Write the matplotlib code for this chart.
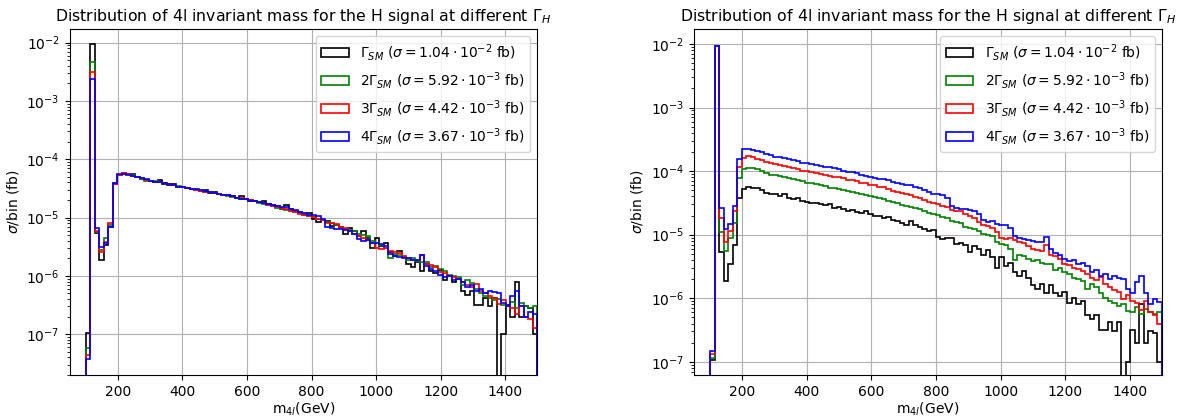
import numpy as np
import matplotlib.pyplot as plt

# binning of the m4l histograms (GeV)
edges = np.arange(100, 1501, 14)
centers = 0.5 * (edges[:-1] + edges[1:])

# sigma per bin in units of 1e-6 fb (same normalisation)
black = [0.105, 9400, 5.4, 1.9, 3.4, 6.8, 38, 53, 57, 55,
         55, 50, 45, 44, 43, 40, 44, 38, 36, 38,
         34, 33, 32, 31, 30, 29, 30, 26, 27, 25.5,
         24, 24.5, 23, 22, 23.5, 21, 20, 19.5, 18.5, 19,
         17, 16.5, 15.5, 14, 16.5, 14, 13, 12.5, 11.5, 12,
         9.3, 8.5, 9, 8.8, 7.2, 7.5, 7, 5.3, 6.6, 6,
         4.8, 5.8, 4.5, 3.0, 4.4, 3.2, 3.6, 2.6, 2.2, 2.7,
         2.1, 1.6, 1.4, 1.7, 1.2, 1.6, 1.2, 1.1, 1.25, 0.85,
         1.0, 0.8, 0.9, 0.55, 0.48, 0.55, 0.32, 0.32, 0.42, 0.3,
         0.42, 0, 0.1, 0.32, 0.2, 0.8, 0.2, 0.3, 0.28, 0.1]
green = [0.058, 4700, 5.6, 2.8, 4.4, 7.5, 39, 54, 56.5, 55,
         53, 50, 46, 43, 43, 42, 40, 39, 38, 36,
         35, 33, 32, 31, 30, 29, 27, 27.5, 26, 25,
         24, 23.5, 22.5, 22, 21, 20.5, 19.5, 19, 18, 17,
         16.5, 15.5, 14.5, 14, 13.5, 13, 12.5, 12, 11, 10.5,
         10.2, 9.5, 9, 8.3, 8, 7.5, 6.5, 6.4, 6.2, 5.8,
         5.2, 5.0, 4.8, 3.9, 3.6, 3.4, 3.0, 2.0, 2.4, 2.3,
         2.1, 1.9, 2.0, 1.8, 1.75, 1.7, 1.4, 1.5, 1.3, 1.2,
         1.05, 1.0, 0.95, 0.7, 0.85, 0.75, 0.6, 0.5, 0.45, 0.42,
         0.38, 0.4, 0.32, 0.3, 0.36, 0.28, 0.34, 0.3, 0.28, 0.3]
red = [0.044, 3150, 6.0, 2.6, 3.8, 8.0, 38, 53, 57, 55,
       52, 50, 47, 44, 43, 41, 40, 39, 37, 36,
       34, 33, 32.5, 31, 30, 29, 28, 27, 26.5, 25.5,
       24.5, 24, 23, 22, 21.5, 20.5, 20, 19, 18.5, 17.5,
       16.5, 15.5, 15, 14.5, 14, 13, 12.5, 11.5, 11, 10.5,
       10.2, 9.5, 9, 8.2, 8, 7.8, 7.0, 6.5, 6.0, 5.3,
       4.8, 4.5, 4.2, 3.7, 3.0, 2.9, 3.0, 2.7, 2.6, 2.5,
       2.2, 2.0, 1.9, 1.85, 2.3, 1.6, 1.55, 1.4, 1.15, 1.1,
       1.0, 0.95, 0.88, 0.8, 0.7, 0.65, 0.72, 0.55, 0.5, 0.45,
       0.42, 0.33, 0.38, 0.3, 0.28, 0.22, 0.3, 0.2, 0.18, 0.13]
blue = [0.037, 2350, 6.5, 3.1, 3.7, 7.0, 39, 55, 56, 54,
        52, 50, 47, 45, 42, 41, 40, 38.5, 37, 35.5,
        34, 33, 32, 31.5, 30.5, 29.5, 28.5, 27.5, 26.5, 25.5,
        24, 24, 23, 22, 21, 20.5, 19.5, 19, 18.5, 18,
        17, 16.5, 15.5, 15, 15, 14, 13.5, 12.5, 11.8, 11,
        11, 10.5, 9.5, 7, 6.5, 6.3, 6.4, 6.2, 6.0, 5.3,
        4.3, 4.0, 4.1, 3.7, 3.6, 3.5, 3.2, 2.4, 2.2, 2.1,
        2.05, 2.0, 1.9, 1.9, 2.3, 1.5, 1.3, 1.2, 1.05, 0.95,
        1.0, 0.85, 0.9, 0.8, 0.65, 0.7, 0.55, 0.6, 0.5, 0.55,
        0.52, 0.5, 0.35, 0.3, 0.45, 0.55, 0.3, 0.2, 0.24, 0.22]

# width multiples (right panel scales each sample by n)
width_factor = [1, 2, 3, 4]
colors = ['black', 'green', 'red', 'blue']
labels = [r'$\Gamma_{SM}$ ($\sigma = 1.04 \cdot 10^{-2}$ fb)',
          r'2$\Gamma_{SM}$ ($\sigma = 5.92 \cdot 10^{-3}$ fb)',
          r'3$\Gamma_{SM}$ ($\sigma = 4.42 \cdot 10^{-3}$ fb)',
          r'4$\Gamma_{SM}$ ($\sigma = 3.67 \cdot 10^{-3}$ fb)']
series = [black, green, red, blue]

fig = plt.figure(figsize=(11.78, 4.17), dpi=100)
ax1 = fig.add_axes([0.0590, 0.1007, 0.3972, 0.829])
ax2 = fig.add_axes([0.5891, 0.1007, 0.3972, 0.829])

for ax, scaled in [(ax1, False), (ax2, True)]:
    for vals, n, c, lab in zip(series, width_factor, colors, labels):
        w = np.array(vals) * 1e-6
        if scaled:
            w = w * n
        ax.hist(centers, bins=edges, weights=w, histtype='step',
                color=c, label=lab, linewidth=1.2)
    ax.set_yscale('log')
    ax.set_xlim(50, 1500)
    ax.set_title(r'Distribution of 4l invariant mass for the H signal at different $\Gamma_H$',
                 fontsize=11.3)
    ax.set_xlabel(r'm$_{4l}$(GeV)', labelpad=1)
    ax.set_ylabel(r'$\sigma$/bin (fb)')
    ax.grid(True)
    ax.legend(loc='upper right')

ax1.set_ylim(2e-8, 1.69e-2)
ax2.set_ylim(6.2e-8, 1.7e-2)

plt.savefig('out.png', dpi=100)
